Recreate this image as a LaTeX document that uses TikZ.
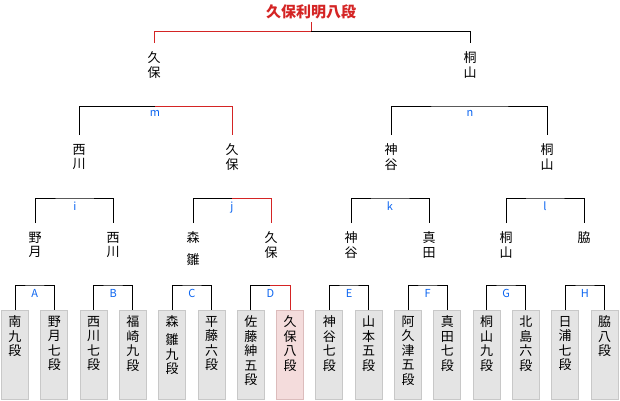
\documentclass[tikz,border=0pt]{standalone}
\usepackage{fontspec}
\setmainfont{Noto Sans CJK JP}
\definecolor{winred}{HTML}{D42424}
\definecolor{labblue}{HTML}{0A64F0}
\definecolor{boxgray}{HTML}{E4E4E4}
\definecolor{boxedge}{HTML}{C8C8C8}
\definecolor{boxpink}{HTML}{F4DCDC}
\definecolor{pinkedge}{HTML}{DCBCBC}
\newcommand{\tate}[1]{\parbox[t][78pt][t]{24pt}{\centering #1}}
\tikzset{
	player/.style={draw=boxedge, fill=boxgray, anchor=north, minimum width=27pt, minimum height=89pt, inner xsep=1.5pt, inner ysep=5.5pt},
	winner/.style={player, draw=pinkedge, fill=boxpink},
	kishi/.style={anchor=north, align=center, inner xsep=0pt, inner ysep=8.5pt},
	taikyoku/.style={anchor=north, text=labblue, font=\fontsize{11}{13}\selectfont, inner sep=3.5pt},
	win/.style={draw=winred}
}
\begin{document}
\begin{tikzpicture}[x=1pt, y=-1pt, line width=1pt, font=\fontsize{13}{14.5}\selectfont]
			\useasboundingbox (0,0) rectangle (620,400);
			%Kishi%
			\node[player] (p1) at (15,310) {\tate{南\\九\\段}};
			\node[player] (p2) at (54.3,310) {\tate{野\\月\\七\\段}};
			\node[player] (p3) at (93.6,310) {\tate{西\\川\\七\\段}};
			\node[player] (p4) at (132.9,310) {\tate{福\\崎\\九\\段}};
			\node[player] (p5) at (172.2,310) {\tate{森\\[3.5pt]雛\\九\\段}};
			\node[player] (p6) at (211.5,310) {\tate{平\\藤\\六\\段}};
			\node[player] (p7) at (250.8,310) {\tate{佐\\藤\\紳\\五\\段}};
			\node[winner] (p8) at (290.1,310) {\tate{久\\保\\八\\段}};
			\node[player] (p9) at (329.4,310) {\tate{神\\谷\\七\\段}};
			\node[player] (p10) at (368.7,310) {\tate{山\\本\\五\\段}};
			\node[player] (p11) at (408,310) {\tate{阿\\久\\津\\五\\段}};
			\node[player] (p12) at (447.3,310) {\tate{真\\田\\七\\段}};
			\node[player] (p13) at (486.6,310) {\tate{桐\\山\\九\\段}};
			\node[player] (p14) at (525.9,310) {\tate{北\\島\\六\\段}};
			\node[player] (p15) at (565.2,310) {\tate{日\\浦\\七\\段}};
			\node[player] (p16) at (604.5,310) {\tate{脇\\八\\段}};
			%IchiKaisen%
			\node[taikyoku] (lA) at (34.65,285) {A};
			\node[taikyoku] (lB) at (113.25,285) {B};
			\node[taikyoku] (lC) at (191.85,285) {C};
			\node[taikyoku] (lD) at (270.45,285) {D};
			\node[taikyoku] (lE) at (349.05,285) {E};
			\node[taikyoku] (lF) at (427.65,285) {F};
			\node[taikyoku] (lG) at (506.25,285) {G};
			\node[taikyoku] (lH) at (584.85,285) {H};
			\draw (p1.north) |- (lA.north) -| (p2.north);
			\draw (p3.north) |- (lB.north) -| (p4.north);
			\draw (p5.north) |- (lC.north) -| (p6.north);
			\draw (p7.north) |- (lD.north);
			\draw[win] (lD.north) -| (p8.north);
			\draw (p9.north) |- (lE.north) -| (p10.north);
			\draw (p11.north) |- (lF.north) -| (p12.north);
			\draw (p13.north) |- (lG.north) -| (p14.north);
			\draw (p15.north) |- (lH.north) -| (p16.north);
			%NiKaisen%
			\node[kishi] (q1) at (35,223) {野\\月};
			\node[kishi] (q2) at (113,223) {西\\川};
			\node[kishi] (q3) at (193,223) {森\\[7pt]雛};
			\node[kishi] (q4) at (271,223) {久\\保};
			\node[kishi] (q5) at (351,223) {神\\谷};
			\node[kishi] (q6) at (429,223) {真\\田};
			\node[kishi] (q7) at (506,223) {桐\\山};
			\node[kishi] (q8) at (584,223) {脇};
			\node[taikyoku] (li) at (75,198) {i};
			\node[taikyoku] (lj) at (232,198) {j};
			\node[taikyoku] (lk) at (390,198) {k};
			\node[taikyoku] (ll) at (545,198) {l};
			\draw (q1.north) |- (li.north) -| (q2.north);
			\draw (q3.north) |- (lj.north);
			\draw[win] (lj.north) -| (q4.north);
			\draw (q5.north) |- (lk.north) -| (q6.north);
			\draw (q7.north) |- (ll.north) -| (q8.north);
			%JunKesshou%
			\node[kishi] (s1) at (79,135) {西\\川};
			\node[kishi] (s2) at (232,135) {久\\保};
			\node[kishi] (s3) at (391,135) {神\\谷};
			\node[kishi] (s4) at (547,135) {桐\\山};
			\node[taikyoku] (lm) at (155,106) {m};
			\node[taikyoku] (ln) at (470,106) {n};
			\draw (s1.north) |- (lm.north);
			\draw[win] (lm.north) -| (s2.north);
			\draw (s3.north) |- (ln.north) -| (s4.north);
			%Kesshou%
			\node[kishi] (t1) at (154,43) {久\\保};
			\node[kishi] (t2) at (470,43) {桐\\山};
			\coordinate (fin) at (311,31);
			\node[text=winred, font=\bfseries\fontsize{15}{17}\selectfont, inner xsep=0pt, inner ysep=2.5pt] (champ) at (311,12) {久保利明八段};
			\draw[win] (champ.south) -- (fin);
			\draw[win] (fin) -| (t1.north);
			\draw (fin) -| (t2.north);
\end{tikzpicture}
\end{document}
